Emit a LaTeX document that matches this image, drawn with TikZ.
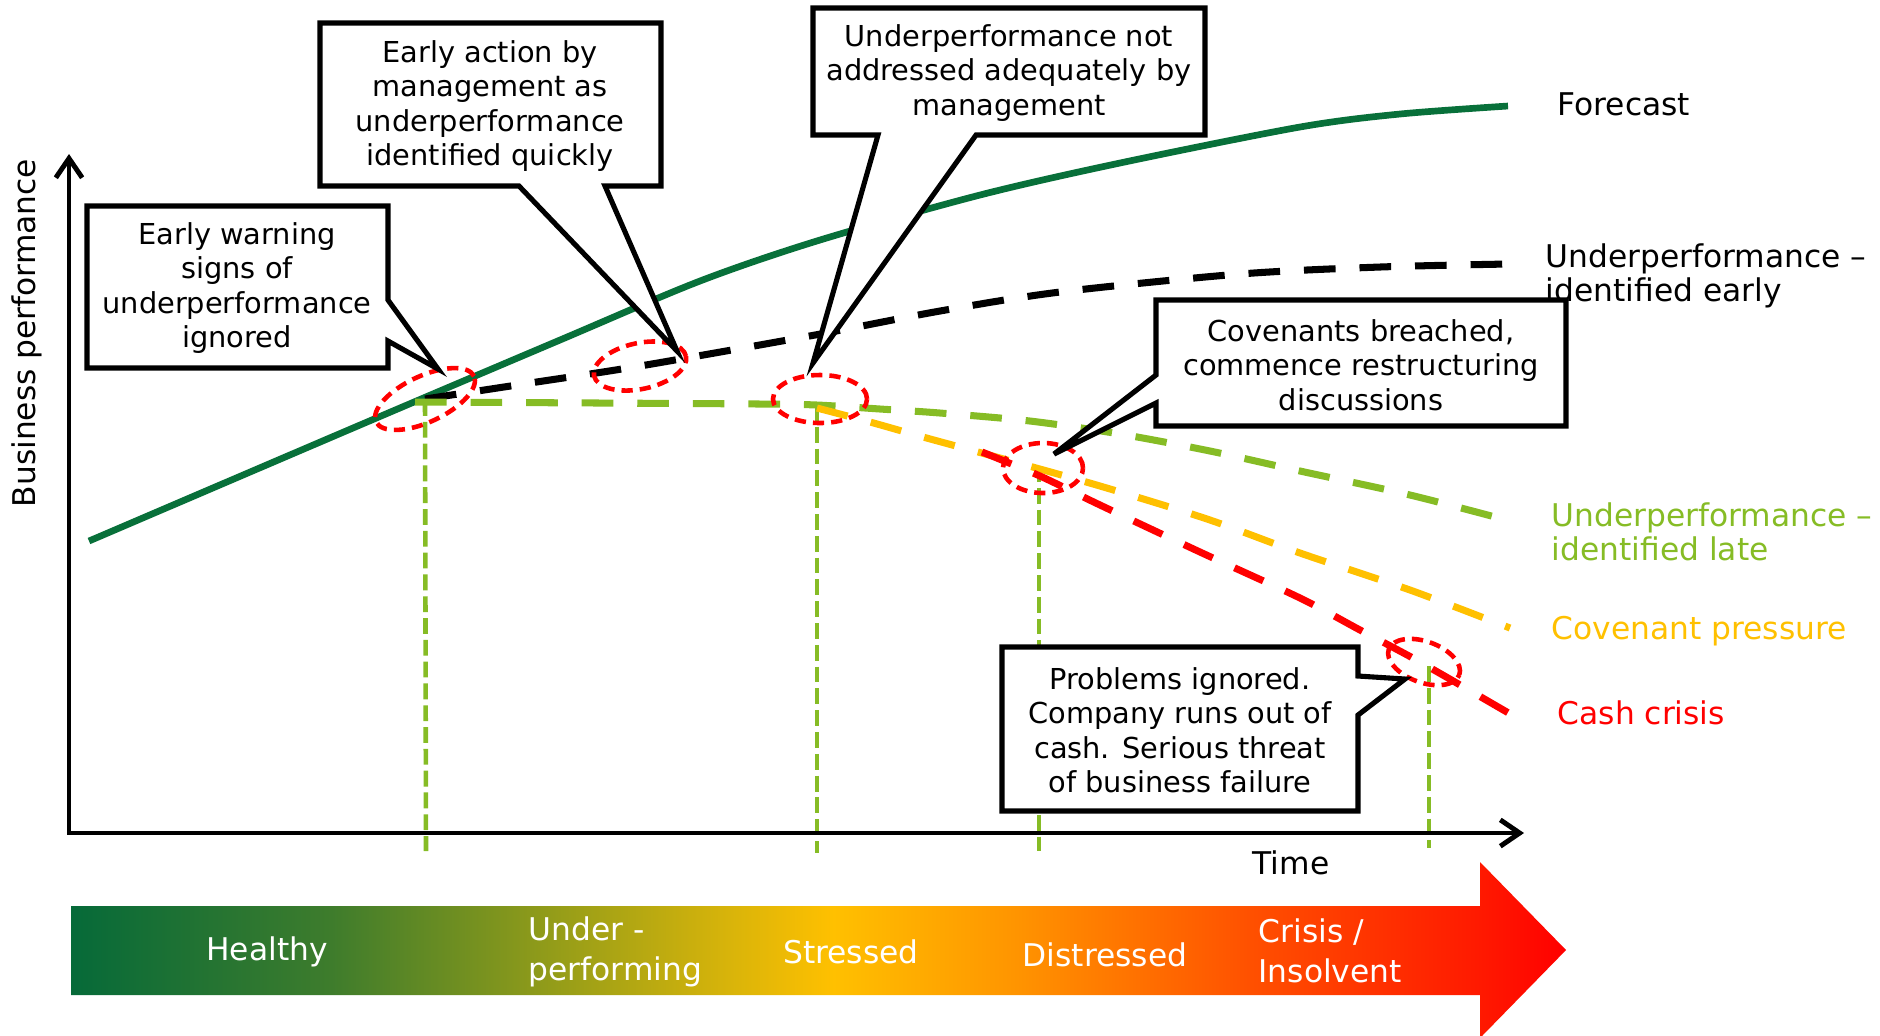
\documentclass[tikz,border=0pt]{standalone}
\usepackage{fontspec}
\setmainfont{DejaVu Sans}
\usetikzlibrary{arrows.meta}

% palette
\definecolor{fcgreen}{HTML}{08703A}
\definecolor{lategreen}{HTML}{86BC25}
\definecolor{covyellow}{HTML}{FFC000}
\definecolor{cashred}{HTML}{FF0000}
% stage bar colours, left to right
\definecolor{sg0}{HTML}{066A39}
\definecolor{sg1}{HTML}{3E7C2C}
\definecolor{sg2}{HTML}{989E18}
\definecolor{sg3}{HTML}{D8B40A}
\definecolor{sg4}{HTML}{FFC000}
\definecolor{sg5}{HTML}{FF9500}
\definecolor{sg6}{HTML}{FF4F00}
\definecolor{sg7}{HTML}{FF1A00}
\definecolor{sg8}{HTML}{FF0000}

\pgfdeclarehorizontalshading{stagebar}{100bp}{color(0bp)=(sg0); color(25bp)=(sg0);
  color(33.7bp)=(sg1); color(41.5bp)=(sg2); color(47bp)=(sg3); color(50.5bp)=(sg4);
  color(56.5bp)=(sg5); color(64.6bp)=(sg6); color(72bp)=(sg7); color(75bp)=(sg8);
  color(100bp)=(sg8)}

\newcommand\calloutfont{\fontsize{8.2pt}{9.8pt}\selectfont}
\newcommand\legendfont{\fontsize{8.9pt}{9.7pt}\selectfont}
\newcommand\stagefont{\fontsize{8.9pt}{11.3pt}\selectfont}

\tikzset{
  trendline/.style={line width=2pt, dash pattern=on 9pt off 6.8pt},
  guideline/.style={draw=lategreen, line width=1.3pt, dash pattern=on 4.5pt off 1.7pt},
  redring/.style={draw=cashred, line width=1.3pt, dash pattern=on 3.2pt off 2pt},
  axisline/.style={line width=1.4pt, line cap=rect},
  calloutbox/.style={draw=black, fill=white, line width=1.45pt, line join=miter},
  callouttext/.style={align=center, font=\calloutfont, inner sep=0pt},
  legendtext/.style={anchor=west, align=left, font=\legendfont, inner sep=0pt},
  stagetext/.style={text=white, align=left, font=\stagefont, inner sep=0pt},
}

\begin{document}
\begin{tikzpicture}[x=0.01cm, y=-0.01cm]
\useasboundingbox (0,0) rectangle (1880,1035);

% ---- key points of the chart
\coordinate (origin) at (69,833);
\coordinate (ytip) at (69,154);
\coordinate (xtip) at (1524,833);
\coordinate (split1) at (425,400);
\coordinate (split2) at (817,405);
\coordinate (split3) at (1039,466);
\coordinate (split4) at (1429,666);

% ---- vertical stage markers
\draw[guideline] (split1) -- (426,851);
\draw[guideline] (split2) -- (817,853);
\draw[guideline] (split3) -- (1039,851);
\draw[guideline] (split4) -- (1429,848);

% ---- axes
\draw[axisline, {Straight Barb[length=5.5pt,width=7.5pt]}-{Straight Barb[length=5.5pt,width=7.5pt]}]
  (ytip) -- (origin) -- (xtip);

% ---- performance paths
\draw[fcgreen, line width=1.9pt] plot[smooth, tension=0.5] coordinates
  {(89,541) (360,425) (560,340) (700,281) (820,240) (980,195) (1120,163) (1300,127) (1400,114) (1508,106)};
\draw[trendline, black] plot[smooth, tension=0.5] coordinates
  {(425,399) (530,383) (640,366) (815,335) (940,311) (1060,292) (1240,274) (1380,267) (1508,264)};
\draw[trendline, lategreen] plot[smooth, tension=0.5] coordinates
  {(415,402) (600,403) (760,404) (817,405) (880,409) (940,413) (1030,421) (1120,434) (1210,451) (1300,471) (1410,495) (1514,522)};
\draw[trendline, covyellow] plot[smooth, tension=0.5] coordinates
  {(817,408) (870,422) (923,437) (1000,458) (1100,486) (1207,519) (1300,553) (1410,590) (1510,628)};
\draw[trendline, cashred] plot[smooth, tension=0.5] coordinates
  {(982,452) (1040,476) (1100,505) (1200,552) (1300,598) (1360,630) (1420,662) (1512,715)};

% ---- highlighted moments
\coordinate (r1) at (425,399);
\coordinate (r2) at (640,366);
\coordinate (r3) at (820,399);
\coordinate (r4) at (1043,468);
\coordinate (r5) at (1424,662);
\draw[redring, rotate around={25:(r1)}] (r1) ellipse [x radius=0.54cm, y radius=0.23cm];
\draw[redring, rotate around={12:(r2)}] (r2) ellipse [x radius=0.47cm, y radius=0.23cm];
\draw[redring] (r3) ellipse [x radius=0.47cm, y radius=0.24cm];
\draw[redring] (r4) ellipse [x radius=0.40cm, y radius=0.25cm];
\draw[redring, rotate around={-20:(r5)}] (r5) ellipse [x radius=0.375cm, y radius=0.205cm];

% ---- legend labels
\node[legendtext] (forecastlbl) at (1557,104) {Forecast};
\node[legendtext] (earlylbl) at (1545,276) {Underperformance –\\identified early};
\node[legendtext, text=lategreen] (latelbl) at (1551,532) {Underperformance –\\identified late};
\node[legendtext, text=covyellow] (covlbl) at (1551,631) {Covenant pressure};
\node[legendtext, text=cashred] (cashlbl) at (1557,713) {Cash crisis};
\node[font=\legendfont, inner sep=0pt] (timelbl) at (1291,863) {Time};
\node[font=\legendfont, inner sep=0pt, rotate=90] (ylbl) at (27,333) {Business performance};

% ---- callouts
\coordinate (tip1) at (438,369);
\coordinate (tip2) at (677,351);
\coordinate (tip3) at (813,363);
\coordinate (tip4) at (1054,454);
\coordinate (tip5) at (1405,679);

\draw[calloutbox] (87,206) -- (388,206) -- (388,300) -- (tip1) -- (388,341) -- (388,368) -- (87,368) -- cycle;
\node[callouttext] (warn) at (237,288) {Early warning\\signs of\\underperformance\\ignored};

\draw[calloutbox] (320,23) -- (661,23) -- (661,186) -- (605,186) -- (tip2) -- (519,186) -- (320,186) -- cycle;
\node[callouttext] (action) at (490,106) {Early action by\\management as\\underperformance\\identified quickly};

\draw[calloutbox] (813,8) -- (1205,8) -- (1205,135) -- (976,135) -- (tip3) -- (878,135) -- (813,135) -- cycle;
\node[callouttext] (notaddr) at (1009,73) {Underperformance not\\addressed adequately by\\management};

\draw[calloutbox] (1156,300) -- (1566,300) -- (1566,426) -- (1156,426) -- (1156,403) -- (tip4) -- (1156,375) -- cycle;
\node[callouttext] (breach) at (1361,365) {Covenants breached,\\commence restructuring\\discussions};

\draw[calloutbox] (1002,647) -- (1358,647) -- (1358,676) -- (tip5) -- (1358,715) -- (1358,811) -- (1002,811) -- cycle;
\node[callouttext] (ignored) at (1180,730) {Problems ignored.\\Company runs out of\\cash. Serious threat\\of business failure};

% ---- stage bar
\shade[shading=stagebar] (71,906) -- (1480,906) -- (1480,862) -- (1566,950)
  -- (1480,1038) -- (1480,995) -- (71,995) -- cycle;
\node[stagetext] (healthy) at (267,952) {Healthy};
\node[stagetext, anchor=west] (underperf) at (528,952) {Under -\\performing};
\node[stagetext] (stressed) at (851,952) {Stressed};
\node[stagetext] (distressed) at (1105,955) {Distressed};
\node[stagetext, anchor=west] (crisis) at (1258,951) {Crisis /\\Insolvent};
\end{tikzpicture}
\end{document}
